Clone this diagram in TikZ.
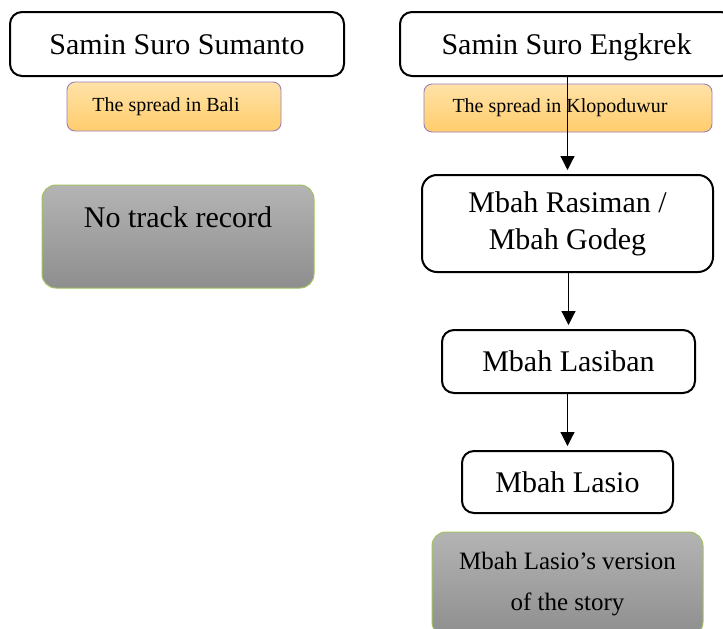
\documentclass[tikz,border=0pt]{standalone}
\usepackage{fontspec}
\setmainfont{Liberation Serif}
\usetikzlibrary{arrows.meta}

\definecolor{orangetop}{HTML}{FFE2A8}
\definecolor{orangebot}{HTML}{FFCD6C}
\definecolor{orangeline}{HTML}{9A7FB8}
\definecolor{greytop}{HTML}{B4B4B4}
\definecolor{greybot}{HTML}{8E8E8E}
\definecolor{greyline}{HTML}{A2C261}

\tikzset{
  person/.style={draw=black, line width=2pt, rounded corners=12pt, fill=white,
    inner sep=0pt, font=\fontsize{30}{36}\selectfont, align=center},
  oneline/.style={text height=20pt, text depth=0pt},
  spread/.style={draw=orangeline, line width=0.9pt, rounded corners=8pt,
    top color=orangetop, bottom color=orangebot, inner sep=0pt,
    font=\fontsize{20}{24}\selectfont},
  note/.style={draw=greyline, line width=1pt, rounded corners=14pt,
    top color=greytop, bottom color=greybot, inner sep=0pt, align=center},
  link/.style={line width=1.2pt, -{Triangle[width=14pt,length=14pt]}, shorten >=4pt}
}

\begin{document}
\begin{tikzpicture}[x=1pt, y=-1pt]
  \clip (0,0) rectangle (723,629);
  \fill[white] (0,0) rectangle (723,629);

  % left column
  \node[person, oneline, minimum width=334pt, minimum height=64pt] (sumanto) at (177,44) {Samin Suro Sumanto};
  \node[spread, minimum width=214pt, minimum height=49pt] (bali) at (174,106.5) {The spread in Bali\hspace*{16pt}};
  \node[note, minimum width=272pt, minimum height=103pt, font=\fontsize{30}{36}\selectfont,
        text height=21pt, text depth=40pt] (notrack) at (178,236.5) {No track record};

  % right column
  \node[person, oneline, minimum width=333pt, minimum height=64pt] (engkrek) at (566.5,44) {Samin Suro Engkrek};
  \node[spread, minimum width=288pt, minimum height=48pt] (klopo) at (568,108) {The spread in Klopoduwur\hspace*{16pt}};
  \node[person, minimum width=291pt, minimum height=97pt, rounded corners=15pt,
        font=\fontsize{30}{37}\selectfont] (rasiman) at (567.5,223.5) {Mbah Rasiman /\\Mbah Godeg};
  \node[person, oneline, minimum width=253pt, minimum height=63pt] (lasiban) at (568.5,361.5) {Mbah Lasiban};
  \node[person, oneline, minimum width=211pt, minimum height=62pt] (lasio) at (567.5,482) {Mbah Lasio};
  \node[note, minimum width=271pt, minimum height=104pt, font=\fontsize{25}{41}\selectfont]
        (version) at (567.5,584) {Mbah Lasio’s version\\of the story};

  % lineage arrows
  \draw[link] (rasiman.north |- engkrek.south) -- (rasiman.north);
  \draw[link] (lasiban.north |- rasiman.south) -- (lasiban.north);
  \draw[link] (lasio.north |- lasiban.south) -- (lasio.north);
\end{tikzpicture}
\end{document}
